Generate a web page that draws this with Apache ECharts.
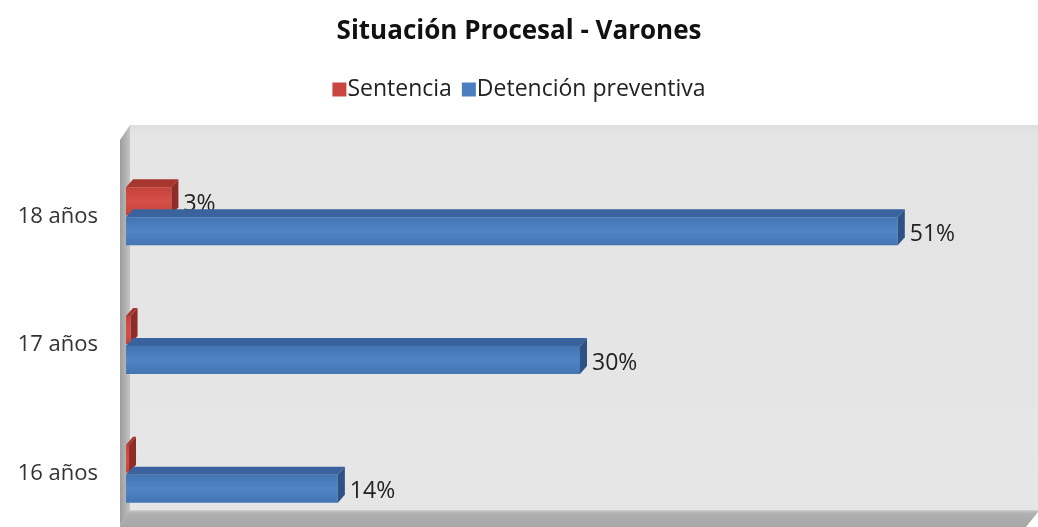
<!DOCTYPE html>
<html>
<head>
<meta charset="utf-8">
<script src="https://cdn.jsdelivr.net/npm/echarts@6/dist/echarts.min.js"></script>
<style>
  html, body { margin: 0; padding: 0; background: #fff; }
  #chart { width: 1038px; height: 527px; }
</style>
</head>
<body>
<div id="chart"></div>
<script>
// datos
const categorias = ['16 años', '17 años', '18 años'];
const sentencia = [0.2, 0.3, 3];
const detencion = [14, 30, 51];

const chart = echarts.init(document.getElementById('chart'));

// barra "3D": cara frontal + cara superior + lateral
function barra3d(colores, offset) {
  return function (params, api) {
    const v = api.value(0);
    const c = api.value(1);
    const p0 = api.coord([0, c]);
    const p1 = api.coord([v, c]);
    const h = 28, dx = 7, dy = 8;
    const yc = p0[1] + offset;
    const top = yc - h / 2, bot = yc + h / 2;
    const x0 = p0[0], x1 = p1[0];
    const children = [
      {
        type: 'rect',
        shape: { x: x0, y: top, width: x1 - x0, height: h },
        style: {
          fill: new echarts.graphic.LinearGradient(0, 0, 0, 1, [
            { offset: 0, color: colores.frente1 },
            { offset: 0.5, color: colores.frente2 },
            { offset: 1, color: colores.frente1 }
          ])
        }
      },
      {
        type: 'polygon',
        shape: { points: [[x0, top], [x1, top], [x1 + dx, top - dy], [x0 + dx, top - dy]] },
        style: { fill: colores.arriba }
      },
      {
        type: 'polygon',
        shape: { points: [[x1, top], [x1 + dx, top - dy], [x1 + dx, bot - dy], [x1, bot]] },
        style: { fill: colores.lado }
      }
    ];
    if (v >= 1) {
      children.push({
        type: 'text',
        x: x1 + dx + 5,
        y: yc + 3,
        style: {
          text: v + '%',
          fill: '#222',
          font: '23px "Open Sans"',
          verticalAlign: 'middle'
        }
      });
    }
    return { type: 'group', children: children };
  };
}

const option = {
  backgroundColor: '#fff',
  color: ['#c9463f', '#4a7ebf'],
  title: {
    text: 'Situación Procesal - Varones',
    left: 'center',
    top: 14,
    textStyle: { fontFamily: 'Open Sans', fontSize: 26, fontWeight: 'bold', color: '#111' }
  },
  legend: {
    top: 73,
    left: 'center',
    icon: 'rect',
    itemWidth: 14,
    itemHeight: 14,
    itemGap: 10,
    textStyle: { fontFamily: 'Open Sans', fontSize: 23, color: '#222', padding: [0, 0, 0, -4] },
    data: ['Sentencia', 'Detención preventiva']
  },
  graphic: [
    {
      type: 'rect', z: -10,
      shape: { x: 130, y: 125, width: 908, height: 387 },
      style: {
        fill: new echarts.graphic.LinearGradient(0, 0, 0, 1, [
          { offset: 0, color: '#dedede' },
          { offset: 0.02, color: '#e4e4e4' },
          { offset: 1, color: '#e6e6e6' }
        ])
      }
    },
    {
      type: 'polygon', z: -9,
      shape: { points: [[120, 140], [130, 125], [130, 512], [120, 524]] },
      style: {
        fill: new echarts.graphic.LinearGradient(0, 0, 1, 0, [
          { offset: 0, color: '#9c9c9c' },
          { offset: 1, color: '#c4c4c4' }
        ])
      }
    },
    {
      type: 'polygon', z: -9,
      shape: { points: [[120, 524], [130, 510], [1038, 510], [1038, 512], [1026, 527], [120, 527]] },
      style: {
        fill: new echarts.graphic.LinearGradient(0, 0, 0, 1, [
          { offset: 0, color: '#cfcfcf' },
          { offset: 0.2, color: '#b0b0b0' },
          { offset: 1, color: '#a6a6a6' }
        ])
      }
    }
  ],
  grid: { left: 126, top: 152, width: 908, height: 386, outerBoundsMode: 'none' },
  xAxis: {
    type: 'value',
    min: 0,
    max: 60,
    show: false,
    splitLine: { show: false }
  },
  yAxis: {
    type: 'category',
    data: categorias,
    axisLine: { show: false },
    axisTick: { show: false },
    axisLabel: { margin: 28, fontFamily: 'Open Sans', fontSize: 22, color: '#333' }
  },
  series: [
    {
      name: 'Sentencia',
      type: 'custom',
      z: 3,
      itemStyle: { color: '#c9463f' },
      renderItem: barra3d({ frente1: '#c5433c', frente2: '#d64f47', arriba: '#a8362f', lado: '#8f2c27' }, -15),
      encode: { x: 0, y: 1 },
      data: sentencia.map((v, i) => [v, i])
    },
    {
      name: 'Detención preventiva',
      type: 'custom',
      z: 4,
      itemStyle: { color: '#4a7ebf' },
      renderItem: barra3d({ frente1: '#4475b3', frente2: '#4f84c6', arriba: '#3a629c', lado: '#2f5284' }, 15),
      encode: { x: 0, y: 1 },
      data: detencion.map((v, i) => [v, i])
    }
  ]
};

chart.setOption(option);
</script>
</body>
</html>
